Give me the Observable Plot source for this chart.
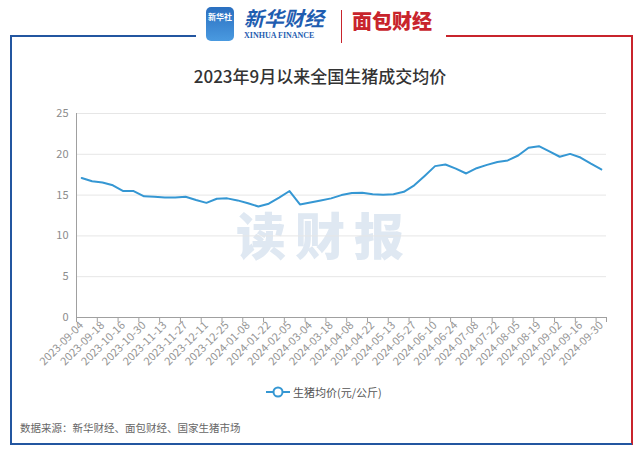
<!DOCTYPE html>
<html>
<head>
<meta charset="utf-8">
<script src="https://cdn.jsdelivr.net/npm/d3@7"></script>
<script src="https://cdn.jsdelivr.net/npm/@observablehq/plot@0.6"></script>
<style>
  html, body { margin: 0; padding: 0; background: #fff; }
  #wrap { position: relative; width: 640px; height: 453px; overflow: hidden; background: #fff;
          font-family: "Noto Sans CJK SC", "Noto Sans", sans-serif; }
  .abs { position: absolute; }
</style>
</head>
<body>
<div id="wrap">
  <!-- frame -->
  <div class="abs" style="left:10px;top:35px;width:2px;height:410px;background:#2356a0"></div>
  <div class="abs" style="left:10px;top:35px;width:186px;height:2px;background:#2356a0"></div>
  <div class="abs" style="left:446px;top:35px;width:187px;height:2px;background:#c8242c"></div>
  <div class="abs" style="left:631px;top:35px;width:2px;height:410px;background:#c8242c"></div>
  <div class="abs" style="left:10px;top:443px;width:622px;height:2px;background:#2356a0"></div>

  <!-- logo -->
  <div class="abs" style="left:206px;top:7px;width:28px;height:34px;border-radius:5px;background:linear-gradient(#2a6fc0,#4a9ae0);"></div>
  <div class="abs" style="left:206px;top:12px;width:28px;text-align:center;color:#fff;font-size:8px;font-weight:bold;line-height:9px;">新华社</div>
  <div class="abs" style="left:244px;top:5px;color:#1f5db0;font-size:20px;font-style:italic;font-weight:bold;letter-spacing:0px;line-height:26px;">新华财经</div>
  <div class="abs" style="left:244px;top:31px;color:#1f5db0;font-size:8px;font-family:'Liberation Serif',serif;font-weight:bold;line-height:10px;">XINHUA FINANCE</div>
  <div class="abs" style="left:341px;top:10px;width:1px;height:33px;background:#c8242c"></div>
  <div class="abs" style="left:352px;top:8px;color:#c8242c;font-size:20px;font-weight:900;line-height:26px;">面包财经</div>

  <!-- title -->
  <div class="abs" style="left:0;top:64px;width:640px;text-align:center;font-size:17px;font-weight:500;color:#333;line-height:24px;">2023年9月以来全国生猪成交均价</div>

  <!-- watermark -->
  <div class="abs" style="left:236px;top:203px;font-size:50px;font-weight:900;color:#dfe8f2;letter-spacing:9px;line-height:60px;">读财报</div>

  <div id="chart" class="abs" style="left:0;top:0;"></div>

  <!-- legend -->
  <div class="abs" style="left:266px;top:385px;display:flex;align-items:center;">
    <svg width="24" height="14"><line x1="0" y1="7" x2="24" y2="7" stroke="#3597d3" stroke-width="2"/><circle cx="12" cy="7" r="4.5" fill="#fff" stroke="#3597d3" stroke-width="2"/></svg>
    <span style="font-size:11px;color:#555;margin-left:3px;line-height:14px;">生猪均价(元/公斤)</span>
  </div>

  <!-- caption -->
  <div class="abs" style="left:20px;top:420px;font-size:10.5px;color:#666;line-height:16px;">数据来源：新华财经、面包财经、国家生猪市场</div>
</div>

<script>
const dates = [
  "2023-09-04","2023-09-11","2023-09-18","2023-10-09","2023-10-16","2023-10-23","2023-10-30","2023-11-06",
  "2023-11-13","2023-11-20","2023-11-27","2023-12-04","2023-12-11","2023-12-18","2023-12-25","2024-01-01",
  "2024-01-08","2024-01-15","2024-01-22","2024-01-29","2024-02-05","2024-02-26","2024-03-04","2024-03-11",
  "2024-03-18","2024-04-01","2024-04-08","2024-04-15","2024-04-22","2024-05-06","2024-05-13","2024-05-20",
  "2024-05-27","2024-06-03","2024-06-10","2024-06-17","2024-06-24","2024-07-01","2024-07-08","2024-07-15",
  "2024-07-22","2024-07-29","2024-08-05","2024-08-12","2024-08-19","2024-08-26","2024-09-02","2024-09-09",
  "2024-09-16","2024-09-23","2024-09-30"
];
const prices = [
  17.1, 16.7, 16.55, 16.2, 15.5, 15.5, 14.85, 14.8,
  14.7, 14.7, 14.8, 14.4, 14.05, 14.55, 14.6, 14.35,
  14.0, 13.6, 13.95, 14.7, 15.5, 13.85, 14.1, 14.35,
  14.6, 15.0, 15.25, 15.3, 15.1, 15.05, 15.1, 15.4,
  16.2, 17.35, 18.55, 18.75, 18.25, 17.65, 18.3, 18.7,
  19.05, 19.25, 19.85, 20.8, 21.0, 20.35, 19.7, 20.05,
  19.6, 18.85, 18.15
];
const tickLabels = [
  "2023-09-04","2023-09-18","2023-10-16","2023-10-30","2023-11-13","2023-11-27","2023-12-11","2023-12-25",
  "2024-01-08","2024-01-22","2024-02-05","2024-03-04","2024-03-18","2024-04-08","2024-04-22","2024-05-13",
  "2024-05-27","2024-06-10","2024-06-24","2024-07-08","2024-07-22","2024-08-05","2024-08-19","2024-09-02",
  "2024-09-16","2024-09-30"
];
const yTicks = [0, 5, 10, 15, 20, 25];

const data = dates.map((d, i) => ({date: d, idx: i, price: prices[i]}));
const tickIdx = tickLabels.map(l => dates.indexOf(l));
const boundaryTicks = [...tickIdx, dates.length];
const labelTicks = tickIdx.map(i => i + 0.5);

const chart = Plot.plot({
  width: 640,
  height: 453,
  marginTop: 113,
  marginBottom: 136,
  marginLeft: 76,
  marginRight: 34,
  x: {type: "linear", domain: [0, dates.length], axis: null},
  y: {domain: [0, 25], axis: null},
  style: {background: "transparent", fontFamily: "'Noto Sans CJK SC', 'Noto Sans', sans-serif", overflow: "visible"},
  marks: [
    Plot.gridY(yTicks.filter(v => v > 0), {stroke: "#e6e6e6", strokeOpacity: 1}),
    Plot.axisY({ticks: yTicks, tickSize: 0, tickPadding: 8, fontSize: 11, color: "#8c8c8c", label: null}),
    Plot.ruleX([0], {stroke: "#a0a0a0"}),
    Plot.ruleY([0], {stroke: "#a0a0a0"}),
    Plot.axisX({ticks: boundaryTicks, tickSize: 5, tickFormat: () => "", stroke: "#a0a0a0", strokeOpacity: 1, label: null}),
    Plot.axisX({ticks: labelTicks, tickSize: 0, tickPadding: 6, tickRotate: -45, fontSize: 11, color: "#959595",
                tickFormat: v => dates[Math.round(v - 0.5)], label: null}),
    Plot.line(data, {x: d => d.idx + 0.5, y: "price", stroke: "#3597d3", strokeWidth: 2})
  ]
});
document.getElementById("chart").appendChild(chart);
</script>
</body>
</html>
